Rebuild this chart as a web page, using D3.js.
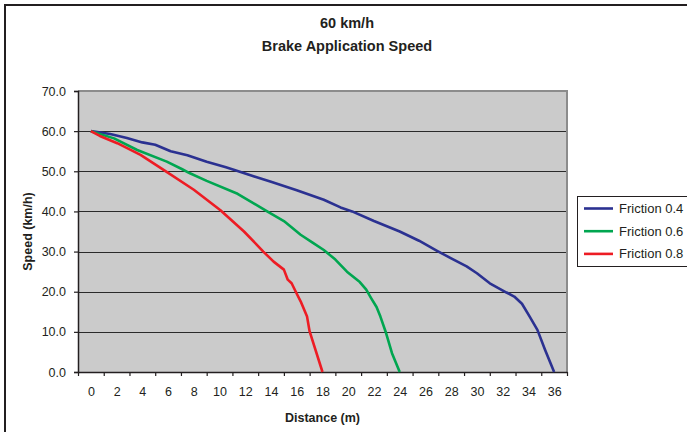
<!DOCTYPE html>
<html><head><meta charset="utf-8">
<script src="https://cdn.jsdelivr.net/npm/d3@7"></script>
<style>html,body{margin:0;padding:0;background:#fff;overflow:hidden}svg{display:block}text{font-family:"Liberation Sans",Arial,sans-serif;fill:#231f20}</style>
</head><body><svg id="c" width="687" height="432"></svg>
<script>
const titleLines = ["60 km/h", "Brake Application Speed"];
const xTickLabels = [0,2,4,6,8,10,12,14,16,18,20,22,24,26,28,30,32,34,36];
const yTickLabels = [0,10,20,30,40,50,60,70];
const seriesNames = ["Friction 0.4", "Friction 0.6", "Friction 0.8"];
const seriesColors = ["#2b3191", "#00a650", "#ed1c24"];
// [distance m, speed km/h]
const friction04 = [[0,60],[1.5,59.3],[2.8,58.3],[4,57.2],[5,56.6],[6.2,55],[7.5,54],[9,52.4],[10.5,51],[11.4,50.1],[12.7,48.7],[14,47.4],[16,45.3],[18.1,42.9],[19.4,41],[20.3,40],[22,37.6],[24,35],[25.5,32.7],[26.9,30.2],[28,28.3],[29.2,26.3],[30,24.6],[31,22.1],[32.3,19.8],[32.9,18.8],[33.5,17],[34.1,13.8],[34.7,10.5],[35.3,5.5],[36,0]];
const friction06 = [[0,60],[1.8,58.2],[3.6,55.3],[5.9,52.4],[7.1,50.5],[7.7,49.5],[9,47.6],[11.4,44.4],[13.7,40],[15,37.6],[16.3,34.2],[17.2,32.3],[18.1,30.4],[19,28],[19.9,25],[20.9,22.4],[21.4,20.5],[21.8,18.3],[22.2,16.2],[22.5,13.8],[22.9,10.1],[23.4,4.7],[24,0]];
const friction08 = [[0,60],[0.7,58.8],[2.05,57],[3.86,54.1],[5.68,50.3],[8,45.4],[10.07,40.3],[11.9,35],[13.4,30],[14.2,27.5],[15,25.5],[15.3,23],[15.6,22.1],[16,19.5],[16.3,17.6],[16.8,13.8],[17,10.1],[18,0]];
const seriesData = [friction04, friction06, friction08];

const svg = d3.select("#c");
const L = 78, R = 567, T = 91, B = 372;
// outer border
svg.append("rect").attr("x",5).attr("y",5).attr("width",700).attr("height",440)
  .attr("fill","none").attr("stroke","#231f20").attr("stroke-width",2);

const x = d3.scaleLinear().domain([-1,37]).range([L,R]);
const y = d3.scaleLinear().domain([0,70]).range([B,T]);

svg.append("rect").attr("x",L).attr("y",T).attr("width",R-L).attr("height",B-T).attr("fill","#cbcbcb");
// gridlines
svg.append("g").selectAll("line").data(yTickLabels.filter(v=>v>0 && v<70)).join("line")
  .attr("x1",L).attr("x2",R).attr("y1",d=>Math.round(y(d))+0.5).attr("y2",d=>Math.round(y(d))+0.5)
  .attr("stroke","#2a2a2a").attr("stroke-width",1.2);
// plot border top/right
svg.append("path").attr("d",`M${L},${T}H${R}V${B}`).attr("fill","none").attr("stroke","#8c8c8c").attr("stroke-width",2);

// y axis
const yAxis = d3.axisLeft(y).tickValues(yTickLabels).tickFormat(d3.format(".1f")).tickSize(4).tickPadding(8);
const gy = svg.append("g").attr("transform",`translate(${L},0)`).call(yAxis);
gy.select(".domain").attr("stroke","#231f20").attr("stroke-width",1.5);
gy.selectAll(".tick line").attr("stroke","#231f20").attr("stroke-width",1.2);
gy.selectAll(".tick text").style("font-size","12.5px").attr("fill","#231f20").attr("font-family",null);

// x axis: marks between categories, labels at categories
const tickMarks = d3.range(-1,38,2);
const xAxisMarks = d3.axisBottom(x).tickValues(tickMarks).tickFormat("").tickSize(4).tickSizeOuter(0);
const gx = svg.append("g").attr("transform",`translate(0,${B})`).call(xAxisMarks);
gx.select(".domain").attr("stroke","#231f20").attr("stroke-width",1.5);
gx.selectAll(".tick line").attr("stroke","#231f20").attr("stroke-width",1.2);
const xAxisLabels = d3.axisBottom(x).tickValues(xTickLabels).tickSize(0).tickPadding(15);
const gxl = svg.append("g").attr("transform",`translate(0,${B})`).call(xAxisLabels);
gxl.select(".domain").remove();
gxl.selectAll(".tick text").style("font-size","12.5px").attr("fill","#231f20").attr("font-family",null);

// lines
const line = d3.line().x(d=>x(d[0])).y(d=>y(d[1]));
seriesData.forEach((s,i)=>{
  svg.append("path").datum(s).attr("d",line).attr("fill","none")
    .attr("stroke",seriesColors[i]).attr("stroke-width",2.6).attr("stroke-linejoin","round");
});

// titles
svg.append("text").attr("x",347).attr("y",28).attr("text-anchor","middle").style("font-size","14.5px").style("font-weight","bold").text(titleLines[0]);
svg.append("text").attr("x",347).attr("y",51).attr("text-anchor","middle").style("font-size","14.5px").style("font-weight","bold").text(titleLines[1]);
svg.append("text").attr("x",(L+R)/2).attr("y",422).attr("text-anchor","middle").style("font-size","12.5px").style("font-weight","bold").text("Distance (m)");
svg.append("text").attr("transform",`translate(32,${(T+B)/2}) rotate(-90)`).attr("text-anchor","middle").style("font-size","12.5px").style("font-weight","bold").text("Speed (km/h)");

// legend
const lg = svg.append("g");
lg.append("rect").attr("x",577.5).attr("y",196.5).attr("width",130).attr("height",70).attr("fill","#fff").attr("stroke","#231f20").attr("stroke-width",1);
seriesNames.forEach((n,i)=>{
  const yy = 208.5 + i*22.7;
  lg.append("line").attr("x1",584).attr("x2",613).attr("y1",yy).attr("y2",yy).attr("stroke",seriesColors[i]).attr("stroke-width",2.6);
  lg.append("text").attr("x",619).attr("y",yy+4.5).style("font-size","13px").text(n);
});
</script></body></html>
